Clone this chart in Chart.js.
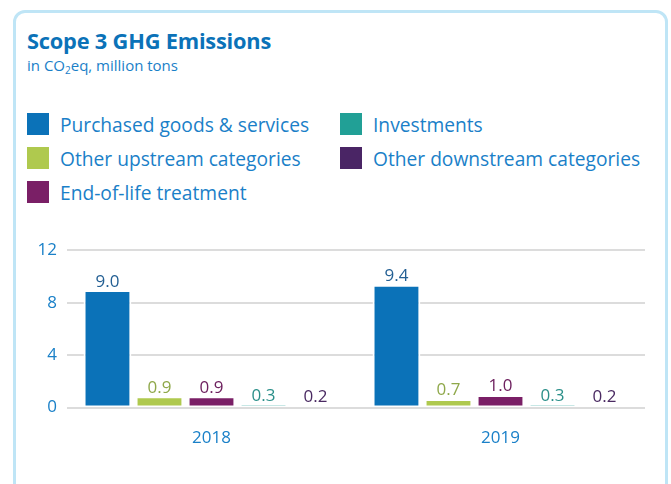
<!DOCTYPE html>
<html>
<head>
<meta charset="utf-8">
<script src="https://cdn.jsdelivr.net/npm/chart.js@4/dist/chart.umd.min.js"></script>
<style>
  html, body { margin: 0; padding: 0; background: #fff; }
  body { width: 671px; height: 484px; position: relative; overflow: hidden; font-family: 'Open Sans', sans-serif; }
  .card { position: absolute; left: 13px; top: 10px; width: 649px; height: 520px; border: 3px solid #bfe5f6; border-radius: 12px; }
  .title { position: absolute; left: 27px; top: 26px; font-size: 21.8px; font-weight: 700; color: #0b72b8; letter-spacing: -0.2px; white-space: nowrap; }
  .subtitle { position: absolute; left: 27px; top: 55px; font-size: 15px; color: #1a80c8; white-space: nowrap; }
  .subtitle sub { font-size: 10px; vertical-align: -3px; line-height: 0; }
  .legend-item { position: absolute; height: 22px; display: flex; align-items: center; white-space: nowrap; font-size: 19.2px; color: #1a80c8; }
  .legend-item span.box { width: 22px; height: 22px; margin-right: 11px; flex: none; }
  #wrap { position: absolute; left: 0; top: 230px; width: 671px; height: 242px; }
</style>
</head>
<body>
<div class="card"></div>
<div class="title">Scope 3 GHG Emissions</div>
<div class="subtitle">in CO<sub>2</sub>eq, million tons</div>
<div id="legend"></div>
<div id="wrap"><canvas id="chart"></canvas></div>
<script>
// ── data ──
const years = ['2018', '2019'];
const seriesNames = [
  'Purchased goods & services',
  'Other upstream categories',
  'End-of-life treatment',
  'Investments',
  'Other downstream categories'
];
const purchased = [9.0, 9.4];
const otherUpstream = [0.9, 0.7];
const endOfLife = [0.9, 1.0];
const investments = [0.3, 0.3];
const otherDownstream = [0.2, 0.2];
const yTicks = [0, 4, 8, 12];

const barColors = ['#0b72b8', '#afc94e', '#7a1f66', '#21a096', '#4a2565'];
const labelColors = ['#235f93', '#8fa84a', '#6e215f', '#2a8f89', '#4a2a62'];
const seriesValues = [purchased, otherUpstream, endOfLife, investments, otherDownstream];

// legend order in the picture (row by row, two columns)
const legendOrder = [0, 3, 1, 4, 2];
const legendEl = document.getElementById('legend');
legendOrder.forEach((si, i) => {
  const col = i % 2, row = Math.floor(i / 2);
  const item = document.createElement('div');
  item.className = 'legend-item';
  item.style.left = (col ? 340 : 27) + 'px';
  item.style.top = (113 + row * 34) + 'px';
  item.innerHTML = '<span class="box" style="background:' + barColors[si] + '"></span>' + seriesNames[si];
  legendEl.appendChild(item);
});

// value labels above the bars
const valueLabels = {
  id: 'valueLabels',
  afterDatasetsDraw(chart) {
    const ctx = chart.ctx;
    ctx.save();
    ctx.font = "17px 'Open Sans'";
    ctx.textAlign = 'center';
    ctx.textBaseline = 'alphabetic';
    chart.data.datasets.forEach((ds, di) => {
      chart.getDatasetMeta(di).data.forEach((bar, i) => {
        ctx.fillStyle = labelColors[di];
        ctx.fillText(ds.data[i].toFixed(1), bar.x, bar.y - 3);
      });
    });
    ctx.restore();
  }
};

const ctx = document.getElementById('chart').getContext('2d');
new Chart(ctx, {
  type: 'bar',
  data: {
    labels: years,
    datasets: seriesValues.map((vals, i) => ({
      label: seriesNames[i],
      data: vals,
      backgroundColor: barColors[i],
      borderColor: '#ffffff',
      borderWidth: { top: 2.5, left: 2, right: 2, bottom: 1 },
      borderSkipped: false,
      barPercentage: 0.92,
      categoryPercentage: 0.9
    }))
  },
  options: {
    responsive: true,
    maintainAspectRatio: false,
    animation: false,
    layout: { padding: { top: 19, left: 0, right: 26, bottom: 4 } },
    plugins: {
      legend: { display: false },
      tooltip: { enabled: false }
    },
    scales: {
      x: {
        grid: { display: false, drawTicks: false },
        border: { display: false },
        ticks: { color: '#1a80c8', padding: 20, font: { family: "'Open Sans'", size: 17 } }
      },
      y: {
        min: 0,
        max: 12,
        afterBuildTicks: s => { s.ticks = yTicks.map(v => ({ value: v })); },
        afterFit: s => { s.width = 67; },
        grid: { color: '#dcdcdc', lineWidth: 2, drawTicks: false },
        border: { display: false },
        ticks: { color: '#1a80c8', padding: 10, font: { family: "'Open Sans'", size: 17 } }
      }
    }
  },
  plugins: [valueLabels]
});
</script>
</body>
</html>
